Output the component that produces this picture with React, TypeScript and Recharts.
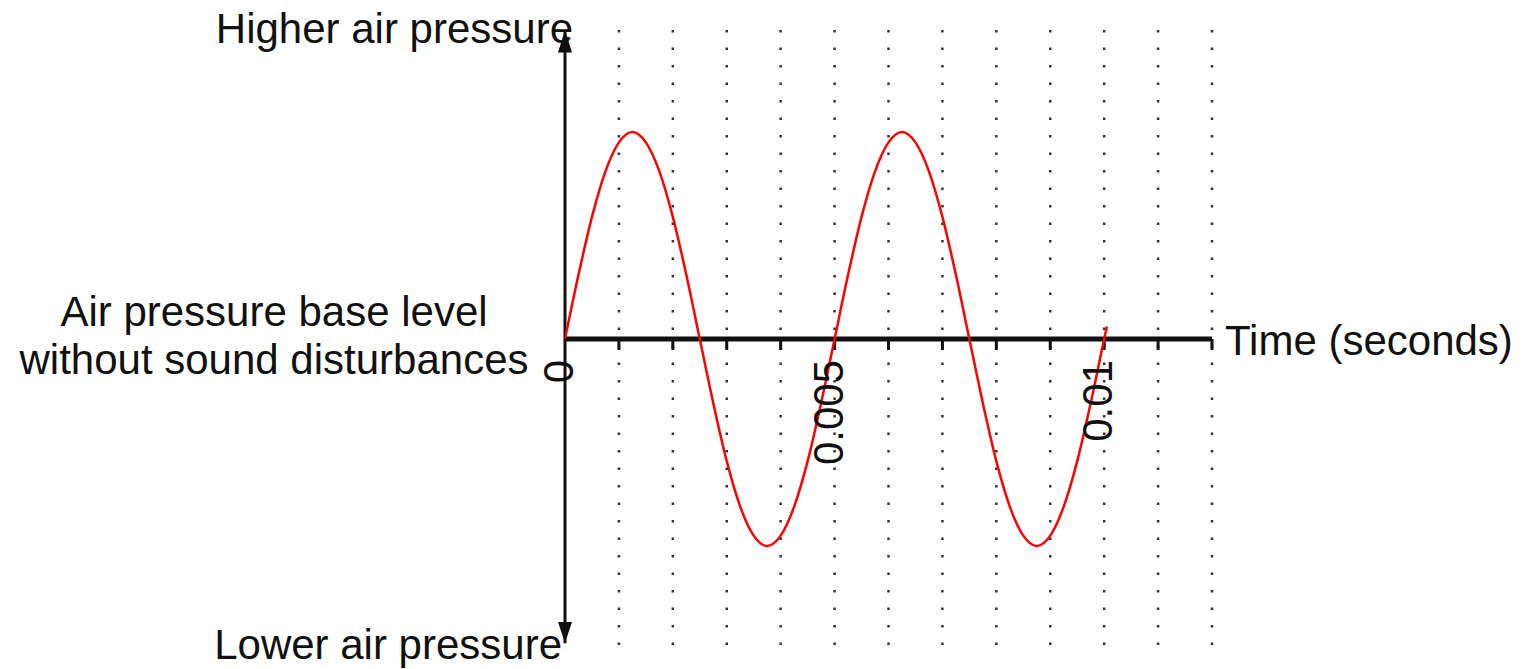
import React from "react"
import { LineChart, Line, XAxis, YAxis, ReferenceLine, ReferenceDot } from "recharts"

// time in seconds, pressure relative to base level
const times = [
  0, 0.00025, 0.0005, 0.00075, 0.001, 0.00125, 0.0015, 0.00175, 0.002, 0.00225,
  0.0025, 0.00275, 0.003, 0.00325, 0.0035, 0.00375, 0.004, 0.00425, 0.0045, 0.00475,
  0.005, 0.00525, 0.0055, 0.00575, 0.006, 0.00625, 0.0065, 0.00675, 0.007, 0.00725,
  0.0075, 0.00775, 0.008, 0.00825, 0.0085, 0.00875, 0.009, 0.00925, 0.0095, 0.00975,
  0.01, 0.01005,
]
const pressure = [
  0, 0.31, 0.59, 0.81, 0.95, 1, 0.95, 0.81, 0.59, 0.31,
  0, -0.31, -0.59, -0.81, -0.95, -1, -0.95, -0.81, -0.59, -0.31,
  0, 0.31, 0.59, 0.81, 0.95, 1, 0.95, 0.81, 0.59, 0.31,
  0, -0.31, -0.59, -0.81, -0.95, -1, -0.95, -0.81, -0.59, -0.31,
  0, 0.06,
]

const gridTicks = [0.001, 0.002, 0.003, 0.004, 0.005, 0.006, 0.007, 0.008, 0.009, 0.01, 0.011, 0.012]
const labelTicks = [0, 0.005, 0.01]
const tickLabels = ["0", "0.005", "0.01"]

const FONT = '"Liberation Sans", Arial, sans-serif'
const INK = "#111"
const FS = 42

const data = times.map((t, i) => ({ t, p: pressure[i] }))

const TopArrow = ({ cx, cy }: any) => (
  <g>
    <text x={cx + 8} y={cy + 14.5} textAnchor="end" fontFamily={FONT} fontSize={FS} fill={INK}>
      Higher air pressure
    </text>
    <polygon points={`${cx},${cy + 1.5} ${cx - 7},${cy + 24} ${cx + 7},${cy + 24}`} fill={INK} />
  </g>
)

const BottomArrow = ({ cx, cy }: any) => (
  <g>
    <text x={cx - 3} y={cy + 9.5} textAnchor="end" fontFamily={FONT} fontSize={FS} fill={INK}>
      Lower air pressure
    </text>
    <polygon points={`${cx},${cy - 6.5} ${cx - 7},${cy - 27.5} ${cx + 7},${cy - 27.5}`} fill={INK} />
  </g>
)

const BaseLabel = ({ cx, cy }: any) => (
  <text textAnchor="middle" fontFamily={FONT} fontSize={FS} fill={INK}>
    <tspan x={cx - 291} y={cy - 13}>Air pressure base level</tspan>
    <tspan x={cx - 291} y={cy + 35}>without sound disturbances</tspan>
  </text>
)

const TimeLabel = ({ cx, cy }: any) => (
  <text x={cx + 13} y={cy + 16} fontFamily={FONT} fontSize={FS} fill={INK}>
    Time (seconds)
  </text>
)

const tickLabel = (label: string) => ({ cx, cy }: any) => (
  <text
    transform={`translate(${cx},${cy + 21}) rotate(-90)`}
    textAnchor="end"
    dy={8}
    fontFamily={FONT}
    fontSize={FS}
    fill={INK}
  >
    {label}
  </text>
)

export default function App() {
  return (
    <div style={{ position: "absolute", left: 0, top: 0, background: "#fff" }}>
      <LineChart
        width={1524}
        height={669}
        data={data}
        margin={{ top: 28.5, right: 312, bottom: 19.5, left: 565 }}
      >
        <XAxis type="number" dataKey="t" domain={[0, 0.012]} hide allowDataOverflow />
        <YAxis type="number" domain={[-1.5, 1.5]} hide allowDataOverflow />

        {gridTicks.map((t) => (
          <ReferenceLine
            key={`g-${t}`}
            segment={[{ x: t, y: 1.493 }, { x: t, y: -1.48 }]}
            stroke="#333"
            strokeWidth={2.5}
            strokeDasharray="2.5 15"
          />
        ))}

        <ReferenceLine y={0} stroke={INK} strokeWidth={5} />
        {gridTicks.map((t) => (
          <ReferenceLine
            key={`k-${t}`}
            segment={[{ x: t, y: 0 }, { x: t, y: -0.053 }]}
            stroke={INK}
            strokeWidth={3}
          />
        ))}
        <ReferenceLine segment={[{ x: 0, y: 1.49 }, { x: 0, y: -1.47 }]} stroke={INK} strokeWidth={3} />

        <ReferenceDot x={0} y={1.5} r={1} shape={TopArrow} />
        <ReferenceDot x={0} y={-1.5} r={1} shape={BottomArrow} />
        <ReferenceDot x={0} y={0} r={1} shape={BaseLabel} />
        <ReferenceDot x={0.012} y={0} r={1} shape={TimeLabel} />
        {labelTicks.map((t, i) => (
          <ReferenceDot key={`l-${t}`} x={t} y={0} r={1} shape={tickLabel(tickLabels[i])} />
        ))}

        <Line
          type="monotone"
          dataKey="p"
          stroke="#ff0000"
          strokeWidth={2.5}
          dot={false}
          isAnimationActive={false}
        />
      </LineChart>
    </div>
  )
}
